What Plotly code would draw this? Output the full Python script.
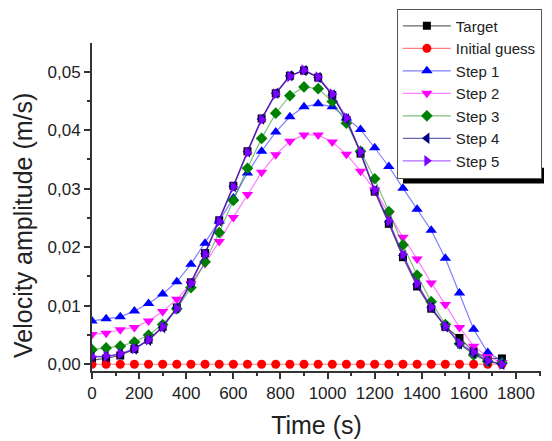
import plotly.graph_objects as go

time_s = [0, 60, 120, 180, 240, 300, 360, 420, 480, 540, 600, 660, 720, 780, 840,
          900, 960, 1020, 1080, 1140, 1200, 1260, 1320, 1380, 1440, 1500, 1560, 1620, 1680, 1740]

target = [0.0007, 0.0010, 0.0015, 0.0026, 0.0042, 0.0064, 0.0097, 0.0140, 0.0190, 0.0246,
          0.0305, 0.0364, 0.0420, 0.0463, 0.0493, 0.0502, 0.0490, 0.0460, 0.0418, 0.0360,
          0.0295, 0.0240, 0.0183, 0.0133, 0.0095, 0.0064, 0.0045, 0.0022, 0.0010, 0.0010]
initial_guess = [0.0] * 30
step1 = [0.0074, 0.0078, 0.0081, 0.0091, 0.0104, 0.0120, 0.0141, 0.0171, 0.0207, 0.0245,
         0.0284, 0.0327, 0.0364, 0.0397, 0.0423, 0.0440, 0.0445, 0.0440, 0.0421, 0.0401,
         0.0370, 0.0338, 0.0301, 0.0265, 0.0229, 0.0181, 0.0122, 0.0060, 0.0020, 0.0005]
step2 = [0.0051, 0.0053, 0.0059, 0.0063, 0.0074, 0.0090, 0.0111, 0.0138, 0.0172, 0.0210,
         0.0251, 0.0290, 0.0328, 0.0358, 0.0381, 0.0392, 0.0392, 0.0380, 0.0359, 0.0330,
         0.0298, 0.0257, 0.0217, 0.0180, 0.0139, 0.0102, 0.0063, 0.0031, 0.0013, 0.0003]
step3 = [0.0025, 0.0028, 0.0031, 0.0038, 0.0050, 0.0068, 0.0095, 0.0131, 0.0175, 0.0225,
         0.0280, 0.0335, 0.0386, 0.0429, 0.0459, 0.0474, 0.0471, 0.0449, 0.0412, 0.0364,
         0.0317, 0.0261, 0.0204, 0.0152, 0.0107, 0.0068, 0.0035, 0.0016, 0.0005, 0.0002]
step4 = [0.0012, 0.0013, 0.0017, 0.0026, 0.0041, 0.0063, 0.0096, 0.0139, 0.0189, 0.0245,
         0.0304, 0.0363, 0.0419, 0.0463, 0.0493, 0.0502, 0.0490, 0.0460, 0.0419, 0.0362,
         0.0297, 0.0243, 0.0186, 0.0136, 0.0097, 0.0064, 0.0035, 0.0019, 0.0005, 0.0000]
step5 = [0.0013, 0.0014, 0.0018, 0.0027, 0.0042, 0.0064, 0.0095, 0.0138, 0.0188, 0.0244,
         0.0303, 0.0362, 0.0418, 0.0462, 0.0492, 0.0503, 0.0491, 0.0462, 0.0421, 0.0363,
         0.0298, 0.0245, 0.0188, 0.0138, 0.0098, 0.0065, 0.0036, 0.0021, 0.0006, 0.0000]

series_names = ["Target", "Initial guess", "Step 1", "Step 2", "Step 3", "Step 4", "Step 5"]
series_values = [target, initial_guess, step1, step2, step3, step4, step5]
series_colors = ["#000000", "#FF0000", "#0000FF", "#FF00FF", "#008000", "#000080", "#8000FF"]
line_colors = ["rgba(0,0,0,0.6)", "rgba(255,0,0,0.5)", "rgba(0,0,255,0.5)", "rgba(255,0,255,0.5)",
               "rgba(0,128,0,0.5)", "rgba(0,0,128,0.6)", "rgba(128,0,255,0.6)"]
symbols = ["square", "circle", "triangle-up", "triangle-down", "diamond", "triangle-left", "triangle-right"]
sizes = [8, 9, 10, 10, 9, 10, 10]

FONT = "Arial, Liberation Sans, sans-serif"

fig = go.Figure()
for name, vals, col, lcol, sym, sz in zip(series_names, series_values, series_colors,
                                          line_colors, symbols, sizes):
    fig.add_trace(go.Scatter(
        x=time_s, y=vals, name=name, mode="lines+markers",
        line=dict(color=lcol, width=1.2),
        marker=dict(symbol=sym, size=sz, color=col, line=dict(width=0)),
    ))

# legend drop shadow (bottom bar)
fig.add_shape(type="rect", xref="paper", yref="paper",
              x0=0.6927, x1=1.05, y0=0.572, y1=0.62,
              fillcolor="black", line=dict(width=0), layer="above")

# y-axis title as a rotated annotation (placed like the reference)
fig.add_annotation(text="Velocity amplitude (m/s)", xref="paper", yref="paper",
                   x=-0.1537, y=0.445, xanchor="center", yanchor="middle",
                   textangle=-90, showarrow=False,
                   font=dict(family=FONT, size=25, color="#222"))

axis_common = dict(
    showline=True, linecolor="#333", linewidth=2, mirror=False,
    ticks="outside", ticklen=6, tickwidth=1.5, tickcolor="#333",
    showgrid=False, zeroline=False,
    tickfont=dict(family=FONT, size=17, color="#222"),
)

# page body has an 8px margin, so the figure is shrunk by 8px and margins shifted
fig.update_layout(
    width=544, height=433,
    margin=dict(l=84, r=11, t=35, b=70, autoexpand=False),
    paper_bgcolor="white", plot_bgcolor="white",
    separators=", ",
    font=dict(family=FONT, color="#222"),
    xaxis=dict(range=[0, 1906], tickmode="linear", tick0=0, dtick=200,
               minor=dict(ticks="outside", ticklen=3, dtick=100, tickcolor="#333"),
               title=dict(text="Time (s)", font=dict(family=FONT, size=25, color="#222"), standoff=14),
               **axis_common),
    yaxis=dict(range=[-0.00115, 0.0549], tickmode="linear", tick0=0, dtick=0.01, tickformat=".2f",
               minor=dict(ticks="outside", ticklen=3, dtick=0.005, tickcolor="#333"),
               **axis_common),
    legend=dict(x=0.679, y=1.105, xanchor="left", yanchor="top",
                bgcolor="white", bordercolor="#555", borderwidth=1,
                font=dict(family=FONT, size=15, color="#222"),
                tracegroupgap=0, itemwidth=48),
    showlegend=True,
)

fig.write_html("out.html")
